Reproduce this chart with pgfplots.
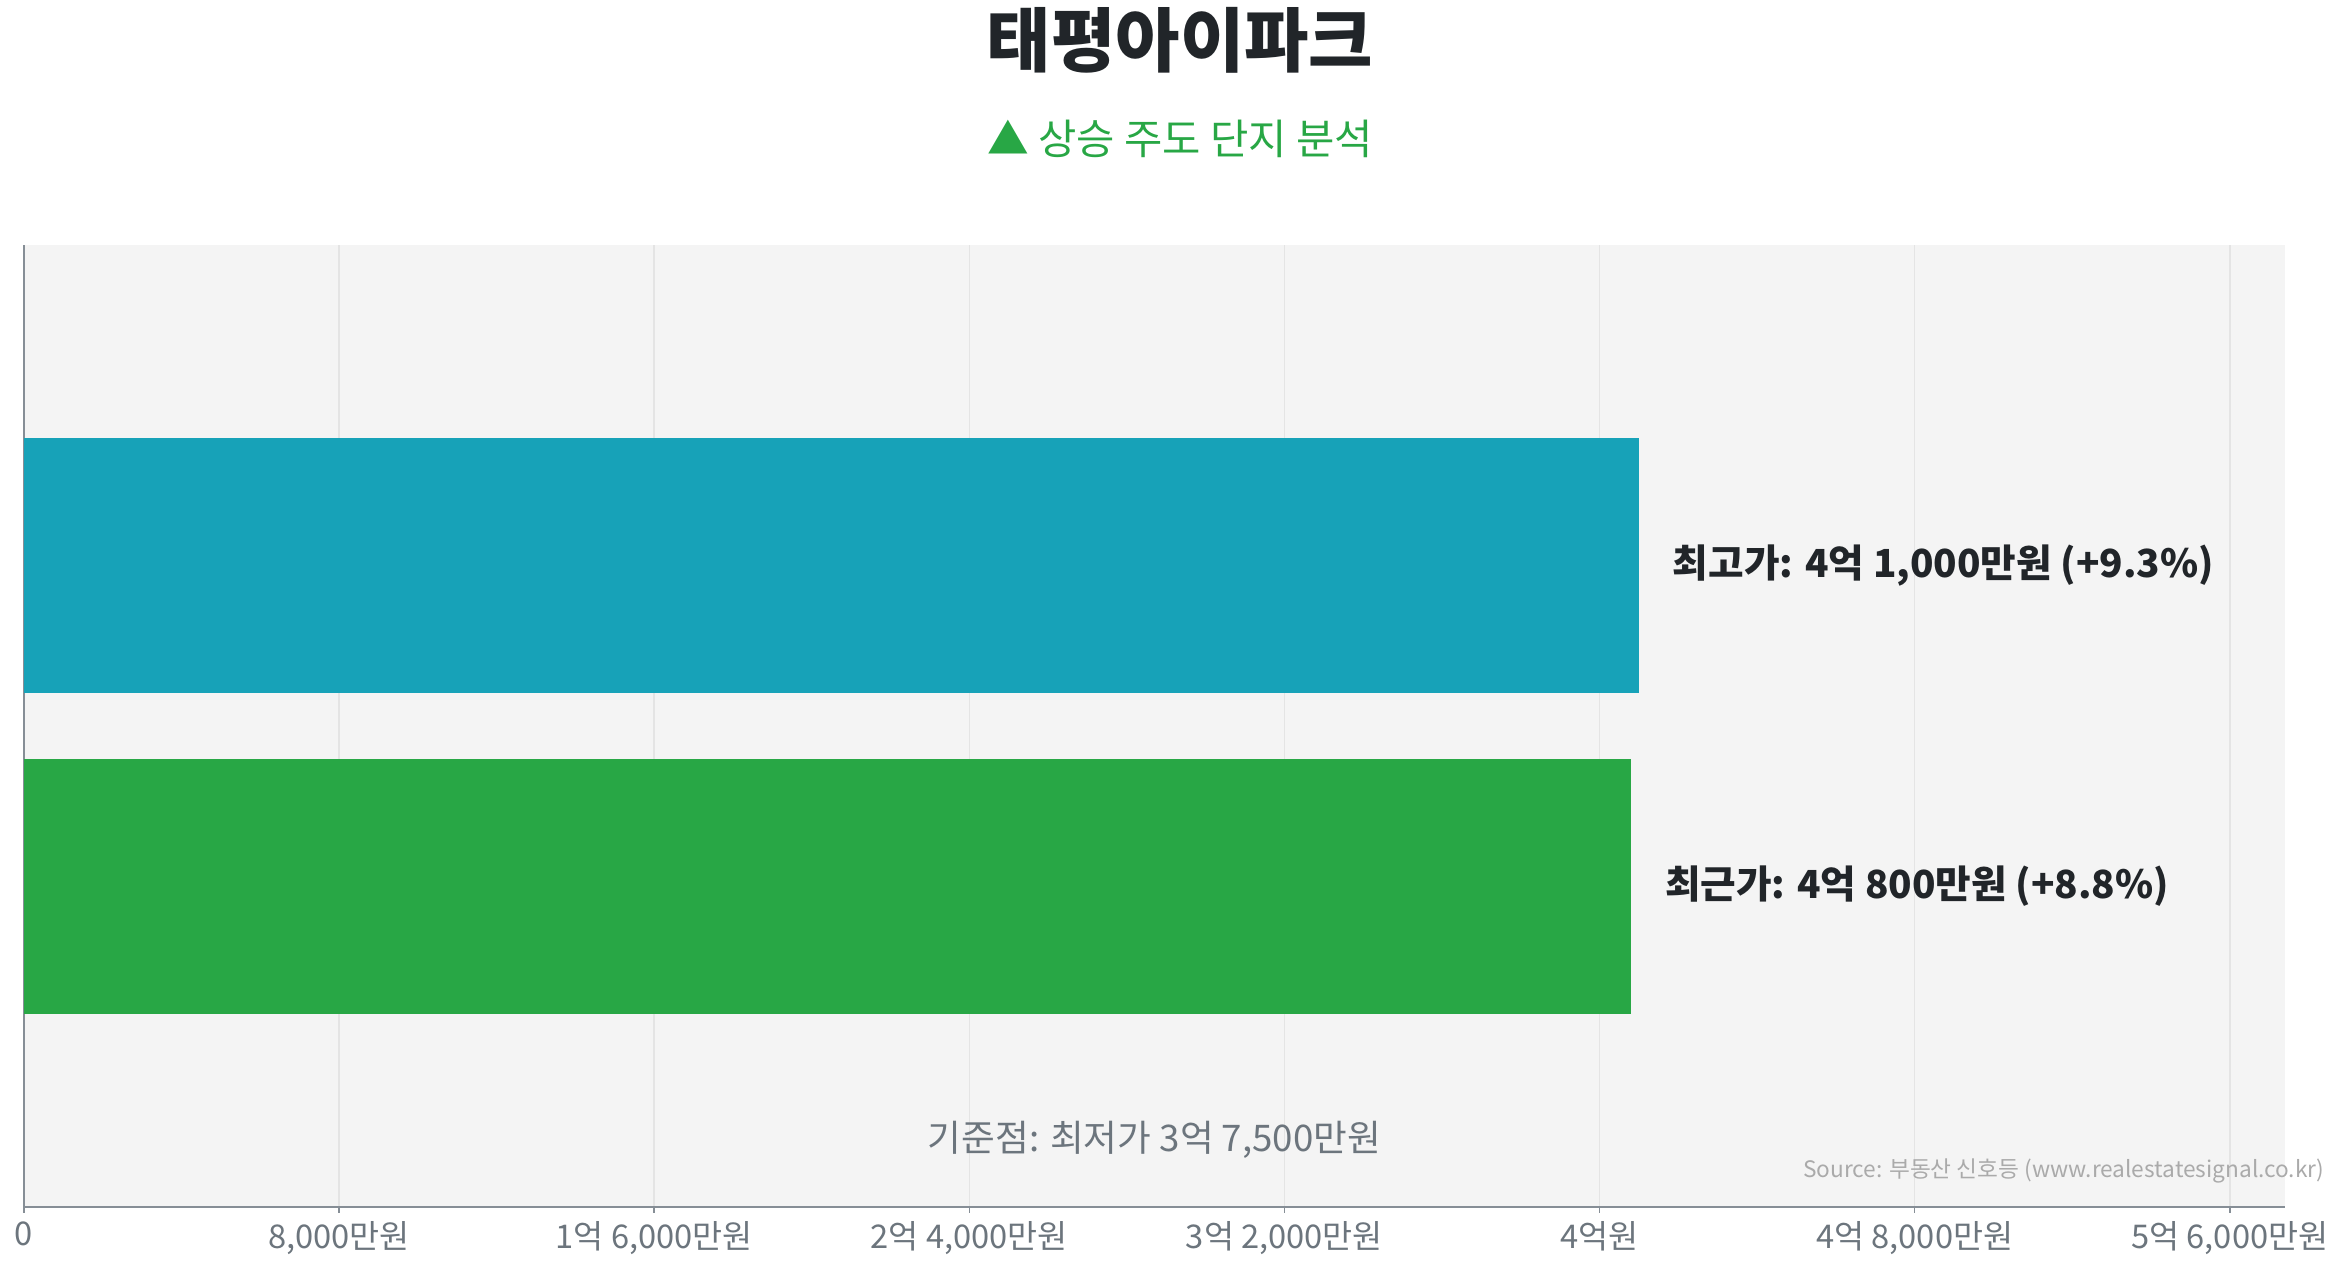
\documentclass[border=0pt]{standalone}
\usepackage{fontspec}
\setmainfont{Noto Sans CJK KR}
\usepackage{pgfplots}
\pgfplotsset{compat=1.18}

\definecolor{titlecol}{HTML}{212529}
\definecolor{upgreen}{HTML}{28A745}
\definecolor{teal}{HTML}{17A2B8}
\definecolor{tickcol}{HTML}{6C757D}
\definecolor{axiscol}{HTML}{868E96}
\definecolor{bgcol}{HTML}{F4F4F4}
\definecolor{gridcol}{HTML}{E4E4E4}
\definecolor{srccol}{HTML}{AAAAAA}

\begin{document}
\begin{tikzpicture}[x=0.3pt,y=0.3pt]
\useasboundingbox (0,0) rectangle (2347,1268);
% title and subtitle
\node[font=\fontsize{21}{24}\selectfont\bfseries, text=titlecol] at (1180,1228) {태평아이파크};
\node[font=\fontsize{12.5}{15}\selectfont, text=upgreen] at (1180,1129) {▲ 상승 주도 단지 분석};

\begin{axis}[
  at={(7.2pt,18.3pt)}, anchor=south west,
  scale only axis, width=678.3pt, height=288.6pt,
  xmin=0, xmax=57400, ymin=-1, ymax=2,
  xbar, bar width=76.5pt, bar shift=0pt,
  axis x line*=bottom, axis y line*=left,
  axis line style={axiscol, line width=0.6pt},
  axis background/.style={fill=bgcol},
  xmajorgrids, grid style={gridcol, line width=0.45pt},
  ytick=\empty,
  xtick={0,8000,16000,24000,32000,40000,48000,56000},
  xticklabels={0, {8,000만원}, {1억 6,000만원}, {2억 4,000만원}, {3억 2,000만원}, {4억원}, {4억 8,000만원}, {5억 6,000만원}},
  tick align=outside, major tick length=1.8pt,
  tick style={axiscol, line width=0.45pt},
  xticklabel style={font=\fontsize{9.8}{12}\selectfont, text=tickcol, yshift=1pt},
  /pgf/number format/assume math mode=true,
  nodes near coords align={horizontal},
  every node near coord/.append style={font=\fontsize{11.6}{14}\selectfont\bfseries, text=titlecol, inner sep=0pt, xshift=10pt},
]
% 최고가 (highest price), 만원
\addplot[fill=teal, draw=none, nodes near coords={최고가: 4억 1,000만원 (+9.3\%)}] coordinates {(41000,1)};
% 최근가 (recent price), 만원
\addplot[fill=upgreen, draw=none, nodes near coords={최근가: 4억 800만원 (+8.8\%)}] coordinates {(40800,0)};
\node[font=\fontsize{11}{13}\selectfont, text=tickcol] at (rel axis cs:0.5,0.07) {기준점: 최저가 3억 7,500만원};
\end{axis}

\node[anchor=east, font=\fontsize{6.8}{8}\selectfont, text=srccol] at (2336,97) {Source: 부동산 신호등 (www.realestatesignal.co.kr)};
\end{tikzpicture}
\end{document}
